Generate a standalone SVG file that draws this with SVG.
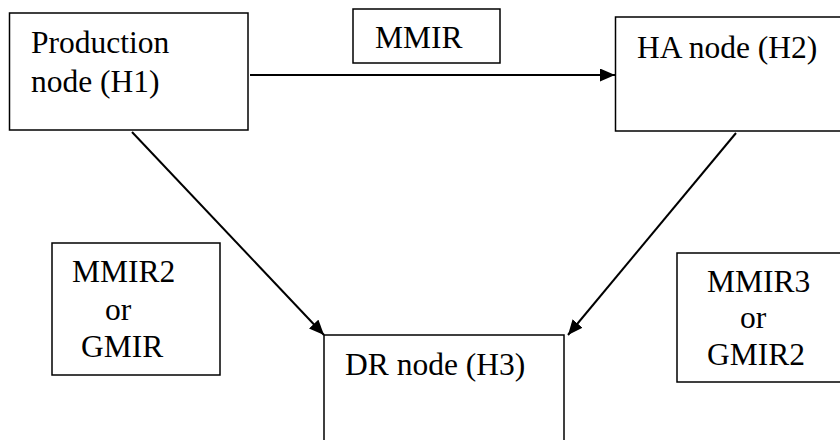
<svg xmlns="http://www.w3.org/2000/svg" width="840" height="440" viewBox="0 0 840 440">
<style>
.box{fill:#fff;stroke:#000;stroke-width:1.5}
text{font-family:'Liberation Serif','DejaVu Serif','Times New Roman',serif;font-size:31.5px;fill:#000}
.c{stroke:#000;stroke-width:2;fill:none;marker-end:url(#ah)}
</style>
<defs>
<marker id="ah" markerUnits="userSpaceOnUse" markerWidth="15" markerHeight="13" refX="15" refY="6.5" orient="auto">
<path d="M0,0 L15,6.5 L0,13 z" fill="#000"/>
</marker>
</defs>
<rect width="840" height="440" fill="#fff"/>
<g id="connectors">
<line class="c" x1="250" y1="75" x2="615" y2="75"/>
<line class="c" x1="132" y1="132" x2="324" y2="335"/>
<line class="c" x1="736" y1="133" x2="568" y2="335"/>
</g>
<g id="h1">
<rect class="box" x="9.5" y="13" width="238.5" height="117"/>
<text x="31" y="53" font-family="Liberation Serif, serif">Production</text>
<text x="31" y="92" font-family="Liberation Serif, serif">node (H1)</text>
</g>
<g id="mmir">
<rect class="box" x="353" y="9" width="147" height="54"/>
<text x="375" y="48" font-family="Liberation Serif, serif">MMIR</text>
</g>
<g id="h2">
<rect class="box" x="615.5" y="17" width="230" height="114"/>
<text x="637" y="58" font-family="Liberation Serif, serif">HA node (H2)</text>
</g>
<g id="mmir2">
<rect class="box" x="52" y="243" width="168" height="132"/>
<text x="72" y="282" font-family="Liberation Serif, serif">MMIR2</text>
<text x="105" y="320" font-family="Liberation Serif, serif">or</text>
<text x="81" y="357" font-family="Liberation Serif, serif">GMIR</text>
</g>
<g id="h3">
<rect class="box" x="324" y="335" width="240" height="115"/>
<text x="345" y="375" font-family="Liberation Serif, serif">DR node (H3)</text>
</g>
<g id="mmir3">
<rect class="box" x="677" y="253" width="170" height="129"/>
<text x="707" y="292" font-family="Liberation Serif, serif">MMIR3</text>
<text x="740" y="328" font-family="Liberation Serif, serif">or</text>
<text x="707" y="365" font-family="Liberation Serif, serif">GMIR2</text>
</g>
</svg>
